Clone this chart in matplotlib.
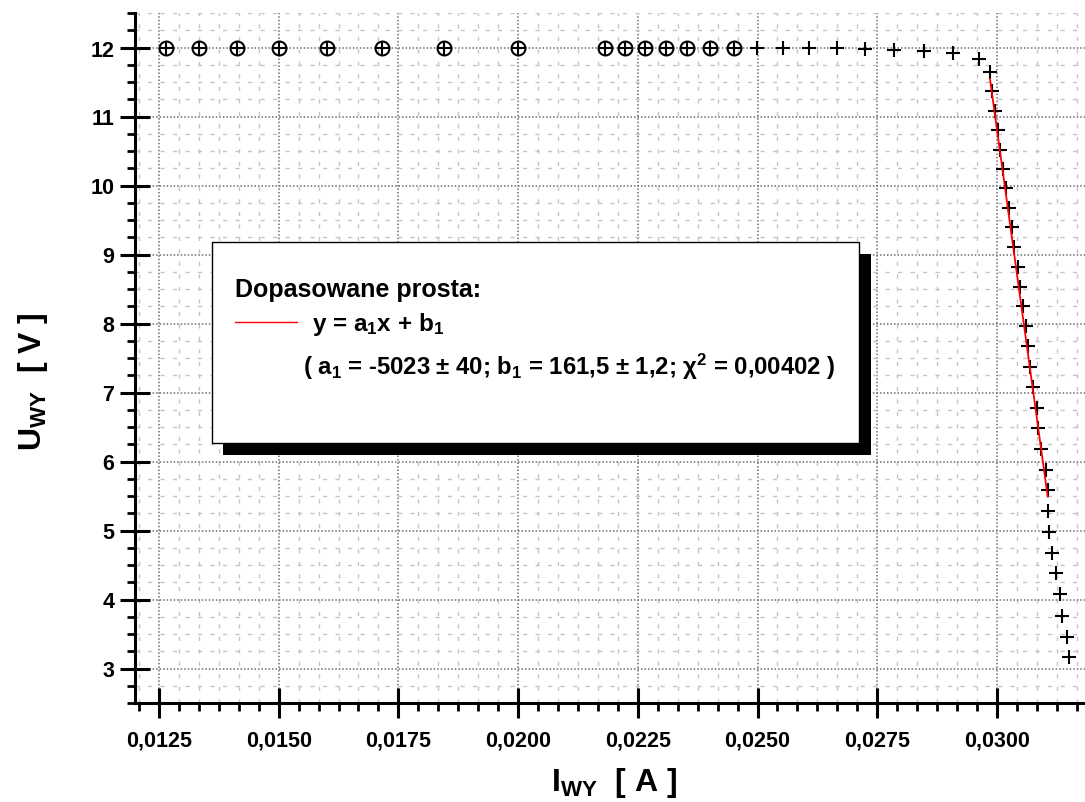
"""U-I characteristic of the regulator output with the fitted straight line."""

import matplotlib
matplotlib.use("Agg")
import matplotlib.pyplot as plt
import numpy as np
from matplotlib.lines import Line2D
from matplotlib.patches import Rectangle
from matplotlib.ticker import FuncFormatter, MultipleLocator

plt.rcParams["font.family"] = ["Liberation Sans", "DejaVu Sans"]
plt.rcParams["font.weight"] = "bold"
plt.rcParams["mathtext.fontset"] = "custom"
plt.rcParams["mathtext.rm"] = "Liberation Sans:bold"
plt.rcParams["mathtext.it"] = "Liberation Sans:bold"
plt.rcParams["mathtext.bf"] = "Liberation Sans:bold"
plt.rcParams["mathtext.default"] = "rm"

# points on the 12 V plateau drawn as circled crosses
I_sat = [0.01264, 0.01334, 0.01412, 0.01501, 0.01600, 0.01715, 0.01846, 0.02000,
         0.02181, 0.02223, 0.02265, 0.02309, 0.02352, 0.02401, 0.02450]
U_sat = [12.00] * len(I_sat)

# plateau points drawn as plain crosses
I_flat = [0.02498, 0.02553, 0.02608, 0.02665, 0.02725, 0.02784, 0.02848, 0.02909, 0.02963]
U_flat = [12.00, 12.00, 11.99, 11.99, 11.98, 11.97, 11.95, 11.92, 11.84]

# points used for the fit
I_fit = [0.029854, 0.029902, 0.029958, 0.030015, 0.030063, 0.030119, 0.030188, 0.030257,
         0.030307, 0.030361, 0.030432, 0.030480, 0.030537, 0.030606, 0.030654, 0.030689,
         0.030758, 0.030829, 0.030863, 0.030913, 0.031017, 0.031059]
U_fit = [11.65, 11.37, 11.08, 10.80, 10.51, 10.24, 9.96, 9.68, 9.40, 9.11, 8.82, 8.53,
         8.25, 7.96, 7.68, 7.37, 7.08, 6.78, 6.48, 6.18, 5.88, 5.59]

# tail below the fitted range
I_tail = [0.031065, 0.031080, 0.031142, 0.031232, 0.031316, 0.031351, 0.031456, 0.031510]
U_tail = [5.28, 4.98, 4.68, 4.38, 4.08, 3.76, 3.46, 3.16]

A1, B1 = -5023.0, 161.5

W, H = 1085, 803
fig = plt.figure(figsize=(W / 100, H / 100), dpi=100)
ax = fig.add_axes([135 / W, 1 - 704 / H, 1 - 135 / W, (704 - 14) / H])

ax.plot(I_sat, U_sat, ls="none", marker="o", ms=10, mfc="none", mec="black", mew=1.5, zorder=3)
ax.plot(I_sat, U_sat, ls="none", marker="+", ms=10, mec="black", mew=1.5, zorder=3)
I_cross = I_flat + I_fit + I_tail
U_cross = U_flat + U_fit + U_tail
ax.plot(I_cross, U_cross, ls="none", marker="+", ms=10, mec="black", mew=1.5, zorder=3)

xf = np.array([min(I_fit), max(I_fit)])
ax.plot(xf, A1 * xf + B1, color="red", lw=1.3, zorder=4)

ax.set_xlim(0.0120, 0.031838)
ax.set_ylim(2.5, 12.5)
ax.xaxis.set_major_locator(MultipleLocator(0.0025))
ax.xaxis.set_minor_locator(MultipleLocator(0.0025 / 6))
ax.yaxis.set_major_locator(MultipleLocator(1))
ax.yaxis.set_minor_locator(MultipleLocator(0.25))
ax.xaxis.set_major_formatter(FuncFormatter(lambda v, p: f"{v:.4f}".replace(".", ",")))
ax.yaxis.set_major_formatter(FuncFormatter(lambda v, p: f"{v:.0f}"))

for s in ("top", "right"):
    ax.spines[s].set_visible(False)
for s in ("left", "bottom"):
    ax.spines[s].set_linewidth(2.2)
ax.tick_params(which="major", direction="inout", length=21.6, width=2.2, labelsize=15.5, pad=4)
ax.tick_params(which="minor", direction="out", length=6, width=2.0)
ax.tick_params(axis="x", which="major", pad=8)

ax.set_axisbelow(True)
ax.grid(which="major", color="#6e6e6e", ls=(0, (1, 1.3)), lw=1.1)
ax.grid(which="minor", color="#c4c4c4", ls=(0, (3, 6)), lw=1.0)

# legend box with drop shadow
def px_rect(x0, y0, x1, y1, **kw):
    return Rectangle((x0 / W, 1 - y1 / H), (x1 - x0) / W, (y1 - y0) / H,
                     transform=fig.transFigure, **kw)

fig.add_artist(px_rect(223, 255, 871, 456, facecolor="black", edgecolor="none", zorder=5))
fig.add_artist(px_rect(212, 243, 859, 444, facecolor="white", edgecolor="black", lw=1.0, zorder=6))
fig.add_artist(Line2D([235 / W, 297 / W], [1 - 323 / H, 1 - 323 / H], color="red", lw=1.0,
                      transform=fig.transFigure, zorder=7))
fig.text(235 / W, 1 - 290 / H, "Dopasowane prosta:", fontsize=18, ha="left", va="center", zorder=7)
fig.text(312 / W, 1 - 325 / H, r"y = a$_1$x + b$_1$", fontsize=17.5, ha="left", va="center", zorder=7)
fig.text(303 / W, 1 - 367 / H,
         r"( a$_1$ = -5023 ± 40; b$_1$ = 161,5 ± 1,2; $\chi^2$ = 0,00402 )",
         fontsize=17.2, ha="left", va="center", zorder=7)

fig.text(614 / W, 1 - 783 / H, r"I$_{WY}$  [ A ]", fontsize=23, ha="center", va="center")
fig.text(33 / W, 1 - 382 / H, r"U$_{WY}$  [ V ]", fontsize=23, ha="center", va="center",
         rotation=90)

fig.savefig("out.png", dpi=100)
